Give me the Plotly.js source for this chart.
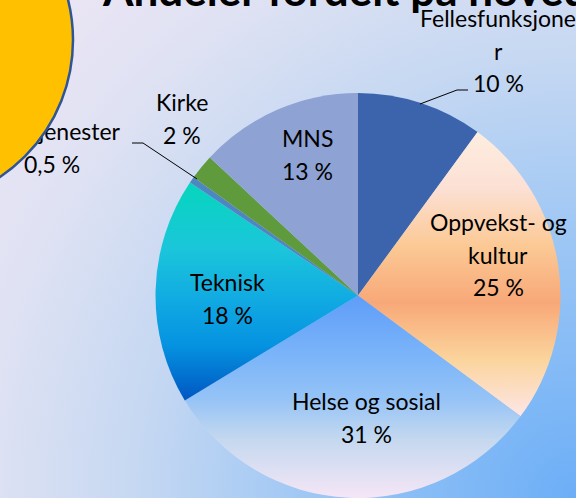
<!DOCTYPE html>
<html>
<head>
<meta charset="utf-8">
<script src="https://cdn.plot.ly/plotly-3.0.1.min.js"></script>
<style>
html,body{margin:0;padding:0;width:576px;height:498px;overflow:hidden;}
body{background: radial-gradient(circle farthest-corner at 100% 100%, #6caef7 0%, #93c2f5 28%, #c6d8f2 58%, #dfe2f3 78%, #efe6f5 100%);}
#chart{width:576px;height:498px;}
</style>
</head>
<body>
<div id="chart"></div>
<script>
// ---- data ----
const categories = ["Fellesfunksjoner", "Oppvekst- og kultur", "Helse og sosial", "Teknisk", "tjenester", "Kirke", "MNS"];
const shares = [10, 25, 31, 18, 0.5, 2, 13];
const titleText = "Andeler fordelt på hovedområder";

// ---- styles / layout helpers ----
const sliceColors = ["#3b64ad", "#f9bf95", "#8fbdf5", "#12a5e0", "#4e86c4", "#5f9a3d", "#8ea3d3"];
const W = 576, H = 498;
const px = x => x / W;
const py = y => 1 - y / H;
const pctText = shares.map(v => String(v).replace('.', ',') + ' %');

// wrapped label lines as drawn in the original
const wrapLines = {
  "Fellesfunksjoner": ["Fellesfunksjone", "r"],
  "Oppvekst- og kultur": ["Oppvekst- og", "kultur"]
};
// label anchor (centre x, first line y) in pixels, line step
const labelPos = [[498, 18], [498, 222], [366, 401], [227, 282], null, [182, 102], [307, 138]];
const lineStep = 32.5;
const labelFont = {family: "Lato, 'Open Sans', sans-serif", size: 23, color: "#000"};

const annotations = [];
categories.forEach((c, i) => {
  const pos = labelPos[i];
  if (!pos) return;
  const lines = (wrapLines[c] || [c]).concat([pctText[i]]);
  lines.forEach((t, k) => {
    annotations.push({
      xref: 'paper', yref: 'paper', x: px(pos[0]), y: py(pos[1] + k * lineStep),
      xanchor: 'center', yanchor: 'middle', showarrow: false,
      text: t, font: labelFont
    });
  });
});
annotations.push({
  xref: 'paper', yref: 'paper', x: px(100), y: py(-11), xanchor: 'left', yanchor: 'middle',
  showarrow: false, text: titleText,
  font: {family: "Lato, 'Open Sans', sans-serif", size: 44, color: "#000", weight: 'bold'}
});

const pie = {
  type: 'pie',
  labels: categories,
  values: shares,
  sort: false,
  direction: 'clockwise',
  rotation: 0,
  textinfo: 'none',
  hoverinfo: 'none',
  marker: {colors: sliceColors, line: {width: 0}},
  domain: {x: [px(155), px(561)], y: [0, 405 / H]},
  showlegend: false
};

// the small slice's label sits under the yellow disc, so it is drawn as trace text
const iSmall = 4;
const smallLabel = {
  type: 'scatter', mode: 'text', xaxis: 'x', yaxis: 'y',
  x: [120, 52], y: [134, 167],
  text: [categories[iSmall], pctText[iSmall]],
  textposition: ['middle left', 'middle center'],
  textfont: labelFont, hoverinfo: 'none', showlegend: false
};

const layout = {
  width: W, height: H,
  margin: {l: 0, r: 0, t: 0, b: 0},
  paper_bgcolor: 'rgba(0,0,0,0)',
  plot_bgcolor: 'rgba(0,0,0,0)',
  xaxis: {range: [0, W], visible: false, fixedrange: true, domain: [0, 1]},
  yaxis: {range: [H, 0], visible: false, fixedrange: true, domain: [0, 1]},
  showlegend: false,
  annotations: annotations,
  shapes: [
    {type: 'circle', xref: 'x', yref: 'y', x0: -257, x1: 73, y0: -125, y1: 205,
     fillcolor: '#ffc000', line: {color: '#2f5597', width: 2.5}, layer: 'above'},
    {type: 'path', xref: 'x', yref: 'y', path: 'M420,104 L457,90 L468,90',
     line: {color: '#000', width: 1}, layer: 'above'},
    {type: 'path', xref: 'x', yref: 'y', path: 'M132,143 L143,143 L197,179',
     line: {color: '#000', width: 1}, layer: 'above'}
  ]
};

const gradients = {
  1: [[0, '#fdeee0'], [0.2, '#fce0d4'], [0.4, '#fbc995'], [0.6, '#f8a878'], [0.8, '#fbd49c'], [1, '#fde6e6']],
  2: [[0, '#5e9df9'], [0.32, '#7db6f9'], [0.51, '#95c3f6'], [0.71, '#c4d8ef'], [1, '#f5e6f6']],
  3: [[0, '#05d6bd'], [0.3, '#1bc6da'], [0.55, '#10a9e3'], [0.75, '#0592e0'], [1, '#0056c2']]
};

Plotly.newPlot('chart', [smallLabel, pie], layout, {staticPlot: true, displayModeBar: false}).then(gd => {
  const ns = 'http://www.w3.org/2000/svg';
  const svg = gd.querySelector('svg.main-svg');
  let defs = svg.querySelector('defs');
  if (!defs) { defs = document.createElementNS(ns, 'defs'); svg.insertBefore(defs, svg.firstChild); }
  Object.keys(gradients).forEach(k => {
    const g = document.createElementNS(ns, 'linearGradient');
    g.setAttribute('id', 'sliceGrad' + k);
    g.setAttribute('x1', '0'); g.setAttribute('y1', '0');
    g.setAttribute('x2', '0'); g.setAttribute('y2', '1');
    gradients[k].forEach(([o, c]) => {
      const s = document.createElementNS(ns, 'stop');
      s.setAttribute('offset', o);
      s.setAttribute('stop-color', c);
      g.appendChild(s);
    });
    defs.appendChild(g);
  });
  const paths = gd.querySelectorAll('.pielayer .slice path.surface');
  paths.forEach((p, i) => {
    if (gradients[i]) p.style.fill = 'url(#sliceGrad' + i + ')';
  });
});
</script>
</body>
</html>
